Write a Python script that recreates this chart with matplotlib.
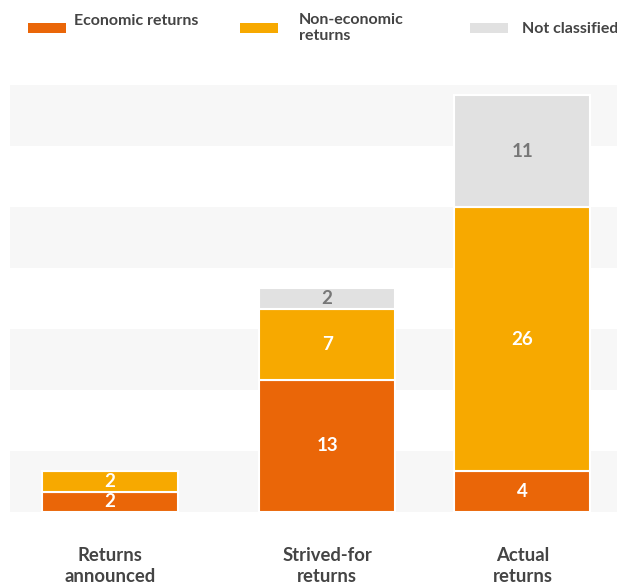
"""Stacked bars: returns announced / strived-for / actual, split by kind of return."""
import matplotlib
matplotlib.use("Agg")
import matplotlib.pyplot as plt
from matplotlib.patches import Rectangle
import numpy as np

plt.rcParams.update({
    "font.family": ["Lato", "DejaVu Sans"],
    "font.weight": "bold",
})

# Data
CATEGORIES = ["Returns\nannounced", "Strived-for\nreturns", "Actual\nreturns"]
ECONOMIC = [2, 13, 4]
NON_ECONOMIC = [2, 7, 26]
NOT_CLASSIFIED = [0, 2, 11]
SERIES = ["Economic returns", "Non-economic\nreturns", "Not classified"]

COLORS = ["#EA6608", "#F7A900", "#E1E1E1"]
LABEL_COLORS = ["white", "white", "#777777"]
BAND = "#F7F7F7"
TEXT = "#444444"

W, H = 617, 584
fig = plt.figure(figsize=(W / 100, H / 100), dpi=100)
# axes spans x 10..617 px, y 85..512 px
ax = fig.add_axes([10 / W, (H - 512) / H, 1 - 10 / W, (512 - 85) / H])

xpos = np.array([0.0, 1.0, 1.9])
width = 0.627
ax.set_xlim(-0.461, 2.336)
ax.set_ylim(0, 42)

# alternating background bands of 6 units
for k, y0 in enumerate(range(0, 42, 6)):
    if k % 2 == 0:
        ax.axhspan(y0, y0 + 6, color=BAND, lw=0, zorder=0)

bottom = np.zeros(3)
for vals, color, lc in zip([ECONOMIC, NON_ECONOMIC, NOT_CLASSIFIED], COLORS, LABEL_COLORS):
    vals = np.array(vals, dtype=float)
    ax.bar(xpos, vals, width, bottom=bottom, color=color,
           edgecolor="white", linewidth=1.5, zorder=2)
    for x, v, b in zip(xpos, vals, bottom):
        if v > 0:
            ax.text(x, b + v / 2, f"{int(v)}", ha="center", va="center",
                    color=lc, fontsize=13.5, fontweight="bold", zorder=3)
    bottom += vals

for x, lab in zip(xpos, CATEGORIES):
    ax.text(x, -3.45, lab, ha="center", va="top", color=TEXT,
            fontsize=13.3, fontweight="bold", linespacing=1.3, clip_on=False)

ax.set_xticks([])
ax.set_yticks([])
for s in ax.spines.values():
    s.set_visible(False)

# legend drawn by hand in pixel coords
leg = [(28, 74), (240, 299), (470, 522)]
text_y = [21, 29, 29]
for (px, tx), color, name, ty in zip(leg, COLORS, SERIES, text_y):
    fig.patches.append(Rectangle((px / W, 1 - 33 / H), 38 / W, 10 / H,
                                 transform=fig.transFigure, color=color, lw=0))
    if "\n" in name:
        fig.text(tx / W, 1 - 13 / H, name, ha="left", va="top", color=TEXT,
                 fontsize=11.5, fontweight="bold", linespacing=1.2)
    else:
        fig.text(tx / W, 1 - ty / H, name, ha="left", va="center", color=TEXT,
                 fontsize=11.5, fontweight="bold")

fig.savefig("out.png", dpi=100)
